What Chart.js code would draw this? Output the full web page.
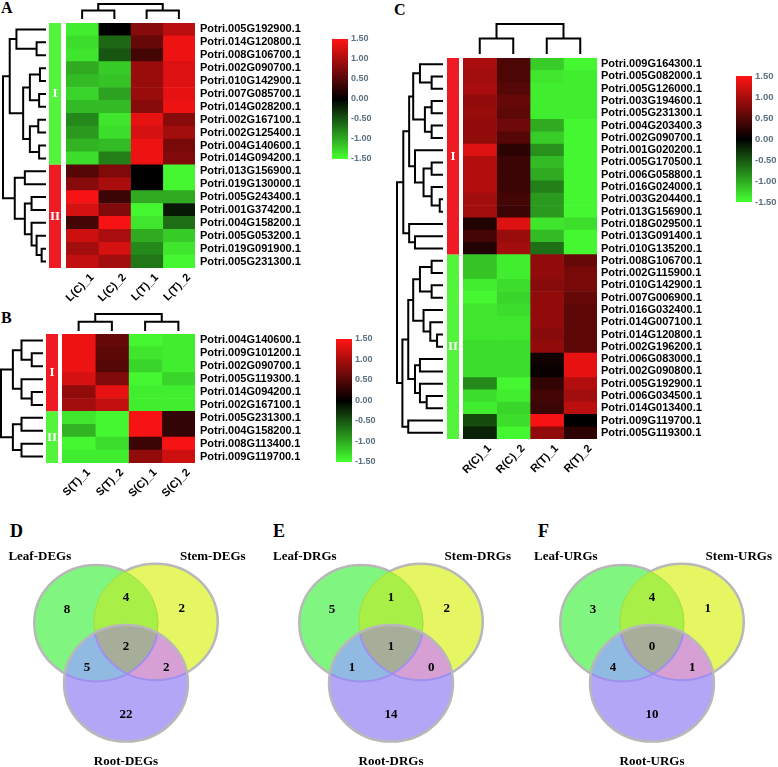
<!DOCTYPE html>
<html>
<head>
<meta charset="utf-8">
<title>Heatmaps and Venn diagrams</title>
<script src="https://cdn.jsdelivr.net/npm/chart.js@4.4.1/dist/chart.umd.min.js"></script>
<style>
  body { margin: 0; background: #fff; }
  #page { position: relative; width: 778px; height: 767px; overflow: hidden; background: #fff; }
  #page canvas { position: absolute; }
  .tag { position: absolute; font: bold 16px/16px "Liberation Serif", serif; color: #000; }
  .tag.big { font-size: 18px; line-height: 18px; }
</style>
</head>
<body>
<div id="page">
  <div class="tag" style="left:1px;top:0px">A</div>
  <div class="tag" style="left:1px;top:310px">B</div>
  <div class="tag" style="left:394px;top:2px">C</div>
  <div class="tag big" style="left:10px;top:522px">D</div>
  <div class="tag big" style="left:273px;top:522px">E</div>
  <div class="tag big" style="left:538px;top:522px">F</div>
</div>
<script>
// ---- A: leaf ----
const leafGenes = ['Potri.005G192900.1', 'Potri.014G120800.1', 'Potri.008G106700.1', 'Potri.002G090700.1',
  'Potri.010G142900.1', 'Potri.007G085700.1', 'Potri.014G028200.1', 'Potri.002G167100.1', 'Potri.002G125400.1',
  'Potri.004G140600.1', 'Potri.014G094200.1', 'Potri.013G156900.1', 'Potri.019G130000.1', 'Potri.005G243400.1',
  'Potri.001G374200.1', 'Potri.004G158200.1', 'Potri.005G053200.1', 'Potri.019G091900.1', 'Potri.005G231300.1'];
const leafSamples = ['L(C)_1', 'L(C)_2', 'L(T)_1', 'L(T)_2'];
const leafValues = [
  [-1.4, 0.0, 0.8, 1.1], [-1.3, -0.6, 0.6, 1.4], [-1.35, -0.5, 0.4, 1.4], [-1.0, -1.2, 0.9, 1.3],
  [-1.1, -1.15, 0.9, 1.3], [-1.25, -0.95, 0.9, 1.35], [-1.1, -1.1, 0.8, 1.4], [-0.8, -1.35, 1.35, 0.8],
  [-0.9, -1.3, 1.25, 0.95], [-1.05, -1.1, 1.4, 0.7], [-1.3, -0.75, 1.4, 0.75], [0.5, 0.75, 0.0, -1.45],
  [0.8, 1.0, 0.0, -1.45], [1.45, 0.35, -1.0, -1.0], [1.25, 0.75, -1.45, -0.15], [0.4, 1.45, -1.35, -0.65],
  [1.2, 1.0, -1.0, -1.2], [0.95, 1.25, -0.8, -1.35], [1.15, 0.95, -0.7, -1.45]];
const leafGroups = [['I', 11], ['II', 8]];
const leafRowTree = [1.0,
  [0.84, [0.68, 0, [0.2, 1, 2]], [0.52, [0.36, [0.12, 3, 4], [0.14, 5, 6]], [0.36, [0.16, 7, 8], [0.14, 9, 10]]]],
  [0.72, [0.48, 11, 12], [0.48, [0.32, 13, 14], [0.32, 15, [0.2, 16, [0.08, 17, 18]]]]]];
const leafColTree = [1.0, [0.53, 0, 1], [0.53, 2, 3]];

// ---- B: stem ----
const stemGenes = ['Potri.004G140600.1', 'Potri.009G101200.1', 'Potri.002G090700.1', 'Potri.005G119300.1',
  'Potri.014G094200.1', 'Potri.002G167100.1', 'Potri.005G231300.1', 'Potri.004G158200.1', 'Potri.008G113400.1',
  'Potri.009G119700.1'];
const stemSamples = ['S(T)_1', 'S(T)_2', 'S(C)_1', 'S(C)_2'];
const stemValues = [
  [1.4, 0.6, -1.45, -1.4], [1.4, 0.55, -1.35, -1.4], [1.4, 0.5, -1.25, -1.4], [1.25, 0.75, -1.45, -1.25],
  [0.85, 1.35, -1.4, -1.4], [0.95, 1.15, -1.4, -1.4], [-1.35, -1.45, 1.45, 0.3], [-1.05, -1.45, 1.45, 0.3],
  [-1.45, -1.3, 0.35, 1.45], [-1.4, -1.4, 0.85, 1.2]];
const stemGroups = [['I', 6], ['II', 4]];
const stemRowTree = [1.0,
  [0.71, [0.5, 0, [0.25, 1, 2]], [0.5, 3, [0.25, 4, 5]]],
  [0.71, [0.5, 6, 7], [0.5, 8, 9]]];
const stemColTree = [1.0, [0.52, 0, 1], [0.52, 2, 3]];

// ---- C: root ----
const rootGenes = ['Potri.009G164300.1', 'Potri.005G082000.1', 'Potri.005G126000.1', 'Potri.003G194600.1',
  'Potri.005G231300.1', 'Potri.004G203400.3', 'Potri.002G090700.1', 'Potri.001G020200.1', 'Potri.005G170500.1',
  'Potri.006G058800.1', 'Potri.016G024000.1', 'Potri.003G204400.1', 'Potri.013G156900.1', 'Potri.018G029500.1',
  'Potri.013G091400.1', 'Potri.010G135200.1', 'Potri.008G106700.1', 'Potri.002G115900.1', 'Potri.010G142900.1',
  'Potri.007G006900.1', 'Potri.016G032400.1', 'Potri.014G007100.1', 'Potri.014G120800.1', 'Potri.002G196200.1',
  'Potri.006G083000.1', 'Potri.002G090800.1', 'Potri.005G192900.1', 'Potri.006G034500.1', 'Potri.014G013400.1',
  'Potri.009G119700.1', 'Potri.005G119300.1'];
const rootSamples = ['R(C)_1', 'R(C)_2', 'R(T)_1', 'R(T)_2'];
const rootValues = [
  [1.0, 0.45, -1.2, -1.45], [0.95, 0.45, -1.35, -1.4], [1.0, 0.5, -1.4, -1.4], [0.85, 0.6, -1.4, -1.4],
  [0.9, 0.55, -1.4, -1.4], [0.85, 0.65, -1.0, -1.45], [0.85, 0.5, -1.2, -1.45], [1.3, 0.25, -0.85, -1.45],
  [1.05, 0.35, -1.1, -1.45], [1.05, 0.35, -1.0, -1.45], [1.05, 0.35, -0.75, -1.45], [0.95, 0.4, -0.9, -1.45],
  [0.95, 0.35, -0.9, -1.45], [0.2, 1.3, -1.35, -1.3], [0.4, 0.9, -1.1, -1.45], [0.2, 0.95, -0.65, -1.45],
  [-1.15, -1.4, 0.85, 0.6], [-1.15, -1.4, 0.85, 0.7], [-1.4, -1.3, 0.8, 0.7], [-1.45, -1.25, 0.85, 0.6],
  [-1.35, -1.3, 0.85, 0.55], [-1.35, -1.35, 0.85, 0.55], [-1.35, -1.35, 0.8, 0.55], [-1.3, -1.3, 0.85, 0.55],
  [-1.3, -1.3, 0.1, 1.35], [-1.3, -1.3, 0.05, 1.35], [-0.8, -1.45, 0.3, 1.05], [-1.3, -1.4, 0.4, 0.95],
  [-1.4, -1.25, 0.35, 1.1], [-0.45, -1.3, 1.45, 0.0], [-0.2, -1.45, 0.85, 0.25]];
const rootGroups = [['I', 16], ['II', 15]];
const rootRowTree = [1.0,
  [0.86, [0.73, [0.64, [0.49, 0, [0.23, 1, 2]], [0.38, [0.23, 3, 4], [0.23, 5, 6]]],
    [0.6, 7, [0.41, [0.23, 8, 9], [0.23, 10, [0.05, 11, 12]]]]], [0.73, 13, [0.6, 14, 15]]],
  [0.88, [0.75, [0.64, [0.49, [0.23, 16, 17], [0.23, 18, 19]], [0.41, 20, [0.26, 21, [0.11, 22, 23]]]],
    [0.6, [0.49, 24, 25], [0.49, 26, [0.34, 27, 28]]]], [0.75, 29, 30]]];
const rootColTree = [1.0, [0.5, 0, 1], [0.5, 2, 3]];

// colour key
const keyMin = -1.5, keyMax = 1.5, keyStep = 0.5;

// ---- D/E/F: venn ----
const vennRegions = ['Leaf', 'Leaf+Stem', 'Stem', 'Leaf+Stem+Root', 'Leaf+Root', 'Stem+Root', 'Root'];
const degCounts = [8, 4, 2, 2, 5, 2, 22];
const drgCounts = [5, 1, 2, 1, 1, 0, 14];
const urgCounts = [3, 4, 1, 0, 4, 1, 10];
const degSets = ['Leaf-DEGs', 'Stem-DEGs', 'Root-DEGs'];
const drgSets = ['Leaf-DRGs', 'Stem-DRGs', 'Root-DRGs'];
const urgSets = ['Leaf-URGs', 'Stem-URGs', 'Root-URGs'];

// venn geometry in axis units (1 unit = one circle radius)
const vennCircles = [{ x: -0.48, y: 0.32 }, { x: 0.48, y: 0.34 }, { x: 0, y: -0.65 }];
const vennRx = 1, vennRy = 0.94;
const regionSpots = [[-0.95, 0.53], [0, 0.73], [0.9, 0.56], [0, -0.06], [-0.63, -0.39], [0.65, -0.39], [0, -1.15]];
const setSpots = [[-1.39, 1.39], [1.4, 1.4], [0, -1.92]];
const regionColors = ['#80f680', '#a8f048', '#e5f662', '#a6ae9a', '#91bae2', '#d6a0d4', '#b4a6f6'];

const hot = [255, 20, 20], cold = [70, 255, 50];
function heatColor(v) {
  const t = Math.min(Math.abs(v) / keyMax, 1);
  const c = v >= 0 ? hot : cold;
  return 'rgb(' + c.map(k => Math.round(k * t)).join(',') + ')';
}

function makeCanvas(left, top, w, h) {
  const cv = document.createElement('canvas');
  cv.width = w; cv.height = h;
  cv.style.left = left + 'px'; cv.style.top = top + 'px';
  document.getElementById('page').appendChild(cv);
  return cv.getContext('2d');
}

// returns segments [along1, depth1, along2, depth2]
function layoutTree(node, leafAt, depthAt, segs) {
  if (typeof node === 'number') return { a: leafAt(node), d: depthAt(0) };
  const p = layoutTree(node[1], leafAt, depthAt, segs);
  const q = layoutTree(node[2], leafAt, depthAt, segs);
  const d = depthAt(node[0]);
  segs.push([p.a, p.d, p.a, d], [q.a, q.d, q.a, d], [p.a, d, q.a, d]);
  return { a: (p.a + q.a) / 2, d: d };
}

const heatDecor = {
  id: 'heatDecor',
  afterDraw(chart, args, o) {
    const { ctx, chartArea: ca, scales: { x, y } } = chart;
    const n = chart.data.labels.length;
    const band = (ca.bottom - ca.top) / n;
    ctx.save();
    ctx.strokeStyle = '#000';
    ctx.lineWidth = 2;
    ctx.lineCap = 'square';

    const rs = [];
    layoutTree(o.rowTree, i => y.getPixelForValue(i), h => ca.left - o.rowLeaf - h * (o.rowRoot - o.rowLeaf), rs);
    ctx.beginPath();
    rs.forEach(s => { ctx.moveTo(s[1], s[0]); ctx.lineTo(s[3], s[2]); });
    ctx.stroke();

    const cs = [];
    layoutTree(o.colTree, j => x.getPixelForValue(j + 0.5), h => ca.top - o.colLeaf - h * (o.colRoot - o.colLeaf), cs);
    ctx.beginPath();
    cs.forEach(s => { ctx.moveTo(s[0], s[1]); ctx.lineTo(s[2], s[3]); });
    ctx.stroke();

    let start = 0;
    o.groups.forEach((g, k) => {
      const top = y.getPixelForValue(start) - band / 2;
      const bot = y.getPixelForValue(start + g[1] - 1) + band / 2;
      ctx.fillStyle = o.groupColors[k];
      ctx.fillRect(ca.left - o.bar[0], top, o.bar[0] - o.bar[1], bot - top);
      ctx.fillStyle = '#fff';
      ctx.font = 'bold 13px "Liberation Serif"';
      ctx.textAlign = 'center';
      ctx.textBaseline = 'middle';
      ctx.fillText(g[0], ca.left - (o.bar[0] + o.bar[1]) / 2, (top + bot) / 2);
      start += g[1];
    });
    ctx.restore();
  }
};

function makeHeatmap(c) {
  const [bl, bt, bw, bh] = c.box;
  const [cl, ct, cr, cb] = c.cells;
  const ctx = makeCanvas(bl, bt, bw, bh);
  new Chart(ctx, {
    type: 'bar',
    data: {
      labels: c.genes,
      datasets: c.samples.map((s, j) => ({
        label: s,
        data: c.genes.map(() => 1),
        backgroundColor: c.values.map(row => heatColor(row[j])),
        borderWidth: 0,
        barPercentage: 1,
        categoryPercentage: 1
      }))
    },
    options: {
      indexAxis: 'y',
      responsive: false,
      animation: false,
      events: [],
      layout: { padding: { left: cl - bl, top: ct - bt, right: 0, bottom: 0 } },
      plugins: { legend: { display: false }, tooltip: { enabled: false }, heatDecor: c.decor },
      scales: {
        x: {
          type: 'linear', stacked: true, min: 0, max: c.samples.length,
          grid: { display: false, drawTicks: false },
          border: { display: false },
          afterBuildTicks: s => { s.ticks = c.samples.map((_, j) => ({ value: j + 0.5 })); },
          afterFit: s => { s.height = bt + bh - cb; },
          ticks: {
            autoSkip: false, minRotation: 45, maxRotation: 45, padding: 3, labelOffset: 10,
            color: '#000', font: { family: 'Liberation Sans', size: 11, weight: 'bold' },
            callback: (v, i) => c.samples[i]
          }
        },
        y: {
          position: 'right', stacked: true,
          grid: { display: false, drawTicks: false },
          border: { display: false },
          afterFit: s => { s.width = bl + bw - cr; },
          ticks: {
            autoSkip: false, padding: c.labelGap, color: '#000',
            font: { family: 'Liberation Sans', size: 11, weight: 'bold' }
          }
        }
      }
    },
    plugins: [heatDecor]
  });
}

function makeColorKey(box, bar, fontSize) {
  const [bl, bt, bw, bh] = box;
  const [l, t, r, b] = bar;
  const ctx = makeCanvas(bl, bt, bw, bh);
  new Chart(ctx, {
    type: 'bar',
    data: {
      labels: [''],
      datasets: [{
        data: [[keyMin, keyMax]],
        barPercentage: 1,
        categoryPercentage: 1,
        borderWidth: 0,
        backgroundColor: (context) => {
          const area = context.chart.chartArea;
          if (!area) return '#000';
          const g = context.chart.ctx.createLinearGradient(0, area.bottom, 0, area.top);
          for (let k = 0; k <= 12; k++) {
            g.addColorStop(k / 12, heatColor(keyMin + (keyMax - keyMin) * k / 12));
          }
          return g;
        }
      }]
    },
    options: {
      responsive: false,
      animation: false,
      events: [],
      layout: { padding: { left: l - bl, top: t - bt, right: 0, bottom: bt + bh - b } },
      plugins: { legend: { display: false }, tooltip: { enabled: false } },
      scales: {
        x: { display: false },
        y: {
          position: 'right', min: keyMin, max: keyMax,
          grid: { display: false, drawTicks: false },
          border: { display: false },
          afterFit: s => { s.width = bl + bw - r; },
          ticks: {
            stepSize: keyStep, padding: 3, color: '#5b7080',
            font: { family: 'Liberation Sans', size: fontSize, weight: 'bold' },
            callback: v => Number(v).toFixed(2)
          }
        }
      }
    }
  });
}

const vennDecor = {
  id: 'vennDecor',
  beforeDatasetsDraw(chart) {
    const { ctx, scales: { x, y } } = chart;
    const W = chart.width, H = chart.height;
    const E = vennCircles.map(c => ({
      cx: x.getPixelForValue(c.x), cy: y.getPixelForValue(c.y),
      rx: x.getPixelForValue(c.x + vennRx) - x.getPixelForValue(c.x),
      ry: y.getPixelForValue(c.y) - y.getPixelForValue(c.y + vennRy)
    }));
    const path = e => { ctx.beginPath(); ctx.ellipse(e.cx, e.cy, e.rx, e.ry, 0, 0, Math.PI * 2); };
    const clipIn = e => { path(e); ctx.clip(); };
    const clipOut = e => {
      ctx.beginPath(); ctx.rect(0, 0, W, H); ctx.ellipse(e.cx, e.cy, e.rx, e.ry, 0, 0, Math.PI * 2); ctx.clip('evenodd');
    };
    const fill = (inside, e, col) => {
      ctx.save(); inside.forEach(clipIn); path(e); ctx.fillStyle = col; ctx.fill(); ctx.restore();
    };
    const [A, B, C] = E;
    fill([], A, regionColors[0]);
    fill([], B, regionColors[2]);
    fill([], C, regionColors[6]);
    fill([A], B, regionColors[1]);
    fill([A], C, regionColors[4]);
    fill([B], C, regionColors[5]);
    fill([A, B], C, regionColors[3]);

    ctx.save();
    ctx.lineWidth = 2.5;
    ctx.strokeStyle = '#b8b8b8';
    ctx.save(); clipOut(B); clipOut(C); path(A); ctx.stroke(); ctx.restore();
    ctx.save(); clipOut(A); clipOut(C); path(B); ctx.stroke(); ctx.restore();
    ctx.save(); clipOut(C); clipIn(B); ctx.lineWidth = 1; ctx.strokeStyle = 'rgba(150,200,60,0.5)'; path(A); ctx.stroke(); ctx.restore();
    ctx.save(); clipOut(C); clipIn(A); ctx.lineWidth = 1; ctx.strokeStyle = 'rgba(150,200,60,0.5)'; path(B); ctx.stroke(); ctx.restore();
    ctx.save(); clipIn(C); ctx.lineWidth = 2; ctx.strokeStyle = '#9f8fee'; path(A); ctx.stroke(); path(B); ctx.stroke(); ctx.restore();
    path(C); ctx.stroke();
    ctx.restore();
  },
  afterDatasetsDraw(chart, args, o) {
    const { ctx } = chart;
    ctx.save();
    ctx.fillStyle = '#000';
    ctx.textAlign = 'center';
    ctx.textBaseline = 'middle';
    ctx.font = 'bold 13px "Liberation Serif"';
    chart.getDatasetMeta(0).data.forEach((pt, i) => ctx.fillText(String(o.counts[i]), pt.x, pt.y));
    chart.getDatasetMeta(1).data.forEach((pt, i) => ctx.fillText(o.sets[i], pt.x, pt.y));
    ctx.restore();
  }
};

function makeVenn(left, counts, sets) {
  const w = 250, h = 237, unit = 62;
  const ctx = makeCanvas(left, 530, w, h);
  new Chart(ctx, {
    type: 'scatter',
    data: {
      datasets: [
        { label: 'regions', data: regionSpots.map((p, i) => ({ x: p[0], y: p[1], r: vennRegions[i] })), pointRadius: 0 },
        { label: 'sets', data: setSpots.map(p => ({ x: p[0], y: p[1] })), pointRadius: 0 }
      ]
    },
    options: {
      responsive: false,
      animation: false,
      events: [],
      layout: { padding: 0 },
      plugins: { legend: { display: false }, tooltip: { enabled: false }, vennDecor: { counts: counts, sets: sets } },
      scales: {
        x: { display: false, min: -w / 2 / unit, max: w / 2 / unit },
        y: { display: false, min: -124 / unit, max: 113 / unit }
      }
    },
    plugins: [vennDecor]
  });
}

const greenBar = '#55f43c', redBar = '#ee1b24';

makeHeatmap({
  box: [0, 0, 325, 310], cells: [66, 23, 195, 268], labelGap: 5,
  genes: leafGenes, samples: leafSamples, values: leafValues,
  decor: { rowTree: leafRowTree, colTree: leafColTree, groups: leafGroups, groupColors: [greenBar, redBar],
    rowRoot: 63, rowLeaf: 21, bar: [17, 5], colRoot: 19, colLeaf: 5 }
});
makeHeatmap({
  box: [0, 305, 325, 195], cells: [62, 334, 195, 463], labelGap: 5,
  genes: stemGenes, samples: stemSamples, values: stemValues,
  decor: { rowTree: stemRowTree, colTree: stemColTree, groups: stemGroups, groupColors: [redBar, greenBar],
    rowRoot: 61, rowLeaf: 20, bar: [16, 4], colRoot: 20, colLeaf: 4 }
});
makeHeatmap({
  box: [390, 15, 388, 472], cells: [463, 58, 597, 439], labelGap: 4,
  genes: rootGenes, samples: rootSamples, values: rootValues,
  decor: { rowTree: rootRowTree, colTree: rootColTree, groups: rootGroups, groupColors: [redBar, greenBar],
    rowRoot: 66, rowLeaf: 21, bar: [16, 4], colRoot: 34, colLeaf: 5 }
});

makeColorKey([325, 28, 60, 145], [332, 39, 348, 159], 9);
makeColorKey([325, 328, 60, 145], [336, 339, 352, 462], 9);
makeColorKey([725, 65, 53, 150], [736, 76, 752, 202], 9.5);

makeVenn(1, degCounts, degSets);
makeVenn(266, drgCounts, drgSets);
makeVenn(527, urgCounts, urgSets);
</script>
</body>
</html>
